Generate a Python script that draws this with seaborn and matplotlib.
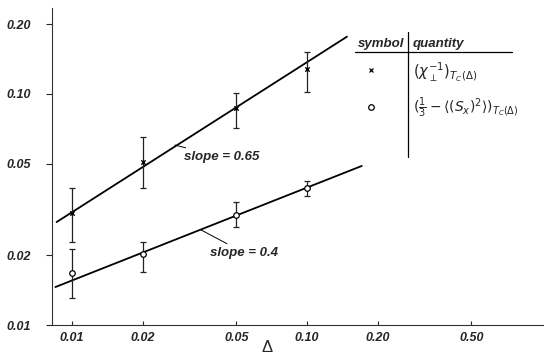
import matplotlib
matplotlib.use("Agg")
import matplotlib.pyplot as plt
import seaborn as sns
import pandas as pd
from matplotlib.lines import Line2D

# data
delta = [0.01, 0.02, 0.05, 0.10]
chi_inv = [0.0305, 0.0509, 0.0869, 0.128]
chi_lo = [0.0229, 0.0391, 0.0713, 0.102]
chi_hi = [0.0391, 0.0651, 0.101, 0.152]
sx_val = [0.0168, 0.0203, 0.0299, 0.0392]
sx_lo = [0.0131, 0.0170, 0.0266, 0.0362]
sx_hi = [0.0213, 0.0229, 0.0341, 0.0420]

# fitted straight lines (end points)
fit_hi_x = [0.0086, 0.148]
fit_hi_y = [0.0279, 0.177]
fit_lo_x = [0.0085, 0.171]
fit_lo_y = [0.0146, 0.0488]

xticks = [0.01, 0.02, 0.05, 0.10, 0.20, 0.50]
xtick_labels = ["0.01", "0.02", "0.05", "0.10", "0.20", "0.50"]
yticks = [0.01, 0.02, 0.05, 0.10, 0.20]
ytick_labels = ["0.01", "0.02", "0.05", "0.10", "0.20"]

sns.set_style("ticks")
plt.rcParams["font.family"] = ["Liberation Sans", "DejaVu Sans"]
plt.rcParams["mathtext.fontset"] = "dejavusans"

W, H = 544, 362
fig = plt.figure(figsize=(W / 100, H / 100), dpi=100)
ax = fig.add_axes([52 / W, 37 / H, 492 / W, 317 / H])

df_hi = pd.DataFrame({"x": fit_hi_x, "y": fit_hi_y})
df_lo = pd.DataFrame({"x": fit_lo_x, "y": fit_lo_y})
sns.lineplot(data=df_hi, x="x", y="y", color="black", lw=1.3, ax=ax)
sns.lineplot(data=df_lo, x="x", y="y", color="black", lw=1.3, ax=ax)

# error bars
chi_err = [[v - l for v, l in zip(chi_inv, chi_lo)], [h - v for v, h in zip(chi_inv, chi_hi)]]
sx_err = [[v - l for v, l in zip(sx_val, sx_lo)], [h - v for v, h in zip(sx_val, sx_hi)]]
ax.errorbar(delta, chi_inv, yerr=chi_err, fmt="none", ecolor="#222222",
            elinewidth=0.9, capsize=2.5, capthick=0.9)
ax.errorbar(delta, sx_val, yerr=sx_err, fmt="none", ecolor="#222222",
            elinewidth=0.9, capsize=2.5, capthick=0.9)

sns.scatterplot(x=delta, y=chi_inv, marker="x", s=10, color="black", linewidth=1.0, ax=ax, zorder=5)
sns.scatterplot(x=delta, y=sx_val, marker="o", s=16, facecolor="white", edgecolor="black",
                linewidth=0.9, ax=ax, zorder=5)

ax.set_xscale("log")
ax.set_yscale("log")
ax.set_xlim(0.00822, 1.02)
ax.set_ylim(0.01, 0.2355)
ax.set_xticks(xticks)
ax.set_xticklabels(xtick_labels)
ax.set_yticks(yticks)
ax.set_yticklabels(ytick_labels)
ax.minorticks_off()
ax.tick_params(axis="x", direction="in", length=3, width=0.8, pad=5, labelsize=9)
ax.tick_params(axis="y", direction="out", length=4, width=0.8, pad=11, labelsize=9)
for lab in ax.get_xticklabels() + ax.get_yticklabels():
    lab.set_fontstyle("italic")
    lab.set_fontweight("bold")
sns.despine(ax=ax)
for sp in ["left", "bottom"]:
    ax.spines[sp].set_linewidth(0.8)
    ax.spines[sp].set_color("#333333")
ax.set_xlabel("")
ax.set_ylabel("")

ax.text((267 - 52) / 492, -(347 - 325) / 317, "Δ", transform=ax.transAxes,
        ha="center", va="center", fontsize=12)

# slope labels
ax.annotate("slope = 0.65", xy=(0.0274, 0.0601), xytext=(0.0300, 0.0533),
            va="center", ha="left", fontsize=9.5, fontweight="bold", fontstyle="italic",
            arrowprops=dict(arrowstyle="-", lw=0.7, color="black", shrinkA=0, shrinkB=0))
ax.annotate("slope = 0.4", xy=(0.0354, 0.0258), xytext=(0.0388, 0.0205),
            va="center", ha="left", fontsize=9.5, fontweight="bold", fontstyle="italic",
            arrowprops=dict(arrowstyle="-", lw=0.7, color="black", shrinkA=0, shrinkB=0))

# symbol table
def fx(px):
    return px / W

def fy(py):
    return 1 - py / H

fig.add_artist(Line2D([fx(355), fx(512)], [fy(52), fy(52)], color="black", lw=0.9))
fig.add_artist(Line2D([fx(408), fx(408)], [fy(32), fy(157)], color="black", lw=0.9))
fig.text(fx(381), fy(44), "symbol", ha="center", va="center", fontsize=9.5,
         fontweight="bold", fontstyle="italic")
fig.text(fx(413), fy(44), "quantity", ha="left", va="center", fontsize=9.5,
         fontweight="bold", fontstyle="italic")
fig.add_artist(Line2D([fx(371)], [fy(70)], marker="x", markersize=3, color="black", mew=0.9))
fig.add_artist(Line2D([fx(371)], [fy(107)], marker="o", markersize=4, mfc="white",
                      mec="black", mew=0.9))
fig.text(fx(413), fy(72), r"$(\chi_{\perp}^{-1})_{T_C(\Delta)}$", ha="left", va="center", fontsize=10.5)
fig.text(fx(413), fy(108), r"$(\frac{1}{3}-\langle(S_x)^2\rangle)_{T_C(\Delta)}$",
         ha="left", va="center", fontsize=10)

fig.savefig("out.png", dpi=100)
